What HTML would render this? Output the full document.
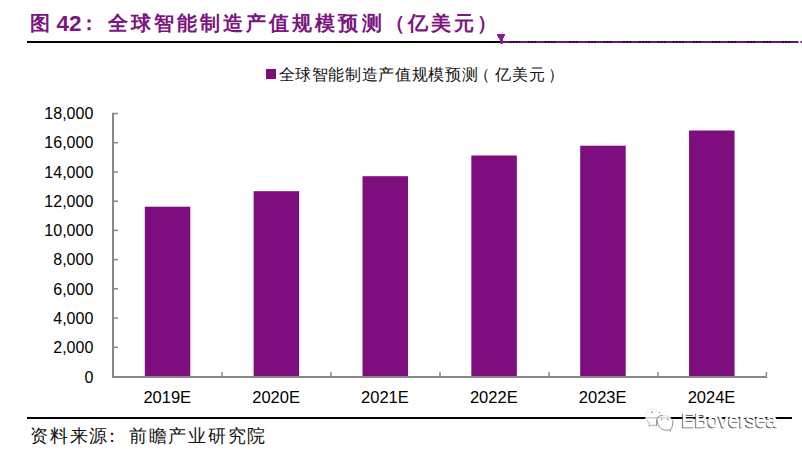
<!DOCTYPE html>
<html><head><meta charset="utf-8"><style>
html,body{margin:0;padding:0;background:#fff;width:802px;height:454px;overflow:hidden}
svg{display:block}
text{font-family:"Liberation Sans",sans-serif}
</style></head><body>
<svg width="802" height="454" viewBox="0 0 802 454">
<rect width="802" height="454" fill="#fff"/>
<!-- title -->
<g fill="#7d1480" font-weight="bold">
<text x="30" y="30.3" font-size="20">图</text>
<text x="56.6" y="31.2" font-size="22.5">42</text>
<text x="79.3" y="30.3" font-size="20">：</text>
<text x="107.5" y="30.2" font-size="20" letter-spacing="3.1">全球智能制造产值规模预测（亿美元）</text>
</g>
<rect x="27" y="41" width="473" height="2" fill="#000"/>
<rect x="500" y="41" width="298.6" height="2" fill="#651a70"/>
<rect x="800.5" y="41" width="1.5" height="2" fill="#651a70"/>
<rect x="509.7" y="41" width="1.6" height="2" fill="#1a0a1a"/>
<rect x="512.7" y="41" width="1.6" height="2" fill="#1a0a1a"/>
<rect x="515.7" y="41" width="1.6" height="2" fill="#1a0a1a"/>
<rect x="518.7" y="41" width="1.6" height="2" fill="#1a0a1a"/>
<rect x="528.2" y="41" width="1.6" height="2" fill="#1a0a1a"/>
<rect x="531.2" y="41" width="1.6" height="2" fill="#1a0a1a"/>
<rect x="534.2" y="41" width="1.6" height="2" fill="#1a0a1a"/>
<rect x="544.7" y="41" width="1.6" height="2" fill="#1a0a1a"/>
<rect x="547.7" y="41" width="1.6" height="2" fill="#1a0a1a"/>
<rect x="550.7" y="41" width="1.6" height="2" fill="#1a0a1a"/>
<rect x="553.7" y="41" width="1.6" height="2" fill="#1a0a1a"/>
<rect x="569.7" y="41" width="1.6" height="2" fill="#1a0a1a"/>
<rect x="572.7" y="41" width="1.6" height="2" fill="#1a0a1a"/>
<rect x="575.7" y="41" width="1.6" height="2" fill="#1a0a1a"/>
<rect x="588.2" y="41" width="1.6" height="2" fill="#1a0a1a"/>
<rect x="591.2" y="41" width="1.6" height="2" fill="#1a0a1a"/>
<rect x="594.2" y="41" width="1.6" height="2" fill="#1a0a1a"/>
<rect x="603.9" y="41" width="1.6" height="2" fill="#1a0a1a"/>
<rect x="606.9" y="41" width="1.6" height="2" fill="#1a0a1a"/>
<rect x="609.9" y="41" width="1.6" height="2" fill="#1a0a1a"/>
<rect x="623.2" y="41" width="1.6" height="2" fill="#1a0a1a"/>
<rect x="626.2" y="41" width="1.6" height="2" fill="#1a0a1a"/>
<rect x="629.2" y="41" width="1.6" height="2" fill="#1a0a1a"/>
<rect x="639.2" y="41" width="1.6" height="2" fill="#1a0a1a"/>
<rect x="642.2" y="41" width="1.6" height="2" fill="#1a0a1a"/>
<rect x="645.2" y="41" width="1.6" height="2" fill="#1a0a1a"/>
<rect x="648.2" y="41" width="1.6" height="2" fill="#1a0a1a"/>
<rect x="657.8" y="41" width="1.6" height="2" fill="#1a0a1a"/>
<rect x="660.8" y="41" width="1.6" height="2" fill="#1a0a1a"/>
<rect x="663.8" y="41" width="1.6" height="2" fill="#1a0a1a"/>
<rect x="673.2" y="41" width="1.6" height="2" fill="#1a0a1a"/>
<rect x="676.2" y="41" width="1.6" height="2" fill="#1a0a1a"/>
<rect x="679.2" y="41" width="1.6" height="2" fill="#1a0a1a"/>
<rect x="682.2" y="41" width="1.6" height="2" fill="#1a0a1a"/>
<rect x="693.2" y="41" width="1.6" height="2" fill="#1a0a1a"/>
<rect x="696.2" y="41" width="1.6" height="2" fill="#1a0a1a"/>
<rect x="699.2" y="41" width="1.6" height="2" fill="#1a0a1a"/>
<rect x="712.2" y="41" width="1.6" height="2" fill="#1a0a1a"/>
<rect x="715.2" y="41" width="1.6" height="2" fill="#1a0a1a"/>
<rect x="718.2" y="41" width="1.6" height="2" fill="#1a0a1a"/>
<rect x="728.2" y="41" width="1.6" height="2" fill="#1a0a1a"/>
<rect x="731.2" y="41" width="1.6" height="2" fill="#1a0a1a"/>
<rect x="734.2" y="41" width="1.6" height="2" fill="#1a0a1a"/>
<rect x="747.2" y="41" width="1.6" height="2" fill="#1a0a1a"/>
<rect x="750.2" y="41" width="1.6" height="2" fill="#1a0a1a"/>
<rect x="753.2" y="41" width="1.6" height="2" fill="#1a0a1a"/>
<rect x="763.2" y="41" width="1.6" height="2" fill="#1a0a1a"/>
<rect x="766.2" y="41" width="1.6" height="2" fill="#1a0a1a"/>
<rect x="769.2" y="41" width="1.6" height="2" fill="#1a0a1a"/>
<rect x="782.2" y="41" width="1.6" height="2" fill="#1a0a1a"/>
<rect x="785.2" y="41" width="1.6" height="2" fill="#1a0a1a"/>
<rect x="788.2" y="41" width="1.6" height="2" fill="#1a0a1a"/>
<polygon points="497,34 505,34 505,36 504,36 504,38 503,38 503,41 502.5,44 500.5,44 500,41 499,38 498,38 498,36 497,36" fill="#8a1a98"/>
<!-- legend -->
<rect x="266" y="69" width="10" height="10" fill="#7e0e7d"/>
<g font-size="16" fill="#111" font-weight="500"><text x="278.5" y="80" letter-spacing="0.64">全球智能制造产值规模预测</text>
<text x="474" y="80">（</text><text x="495.4" y="80" letter-spacing="0.64">亿美元</text><text x="547.6" y="80">）</text></g>
<!-- bars -->
<rect x="144.80" y="206.7" width="45.5" height="170.30" fill="#7e0e7d"/><rect x="253.65" y="191.2" width="45.5" height="185.80" fill="#7e0e7d"/><rect x="362.50" y="176.2" width="45.5" height="200.80" fill="#7e0e7d"/><rect x="471.35" y="155.5" width="45.5" height="221.50" fill="#7e0e7d"/><rect x="580.20" y="145.7" width="45.5" height="231.30" fill="#7e0e7d"/><rect x="689.05" y="130.5" width="45.5" height="246.50" fill="#7e0e7d"/>
<!-- axes -->
<rect x="112" y="113" width="2" height="265" fill="#888"/>
<rect x="112" y="376" width="655" height="2" fill="#888"/>
<rect x="112" y="346.53" width="6" height="1.5" fill="#888"/><rect x="112" y="317.31" width="6" height="1.5" fill="#888"/><rect x="112" y="288.09" width="6" height="1.5" fill="#888"/><rect x="112" y="258.87" width="6" height="1.5" fill="#888"/><rect x="112" y="229.65" width="6" height="1.5" fill="#888"/><rect x="112" y="200.43" width="6" height="1.5" fill="#888"/><rect x="112" y="171.21" width="6" height="1.5" fill="#888"/><rect x="112" y="141.99" width="6" height="1.5" fill="#888"/><rect x="112" y="112.77" width="6" height="1.5" fill="#888"/>
<rect x="221.25" y="372" width="1.5" height="5" fill="#888"/><rect x="330.25" y="372" width="1.5" height="5" fill="#888"/><rect x="439.25" y="372" width="1.5" height="5" fill="#888"/><rect x="548.25" y="372" width="1.5" height="5" fill="#888"/><rect x="657.25" y="372" width="1.5" height="5" fill="#888"/><rect x="765.65" y="372" width="1.5" height="5" fill="#888"/>
<g font-size="16" fill="#000">
<text x="93.3" y="383.00" text-anchor="end">0</text><text x="93.3" y="352.98" text-anchor="end">2,000</text><text x="93.3" y="323.76" text-anchor="end">4,000</text><text x="93.3" y="294.54" text-anchor="end">6,000</text><text x="93.3" y="265.32" text-anchor="end">8,000</text><text x="93.3" y="236.10" text-anchor="end">10,000</text><text x="93.3" y="206.88" text-anchor="end">12,000</text><text x="93.3" y="177.66" text-anchor="end">14,000</text><text x="93.3" y="148.44" text-anchor="end">16,000</text><text x="93.3" y="119.22" text-anchor="end">18,000</text>
<text x="167.25" y="403" text-anchor="middle" font-size="16.5">2019E</text><text x="276.10" y="403" text-anchor="middle" font-size="16.5">2020E</text><text x="384.95" y="403" text-anchor="middle" font-size="16.5">2021E</text><text x="493.80" y="403" text-anchor="middle" font-size="16.5">2022E</text><text x="602.65" y="403" text-anchor="middle" font-size="16.5">2023E</text><text x="711.50" y="403" text-anchor="middle" font-size="16.5">2024E</text>
</g>
<!-- bottom -->
<rect x="27" y="417" width="765" height="2" fill="#000"/>
<g font-size="18" fill="#111"><text x="30" y="442" letter-spacing="1.75">资料来源</text><text x="103" y="442">：</text>
<text x="128.75" y="442" letter-spacing="1.75">前瞻产业研究院</text></g>
<!-- watermark -->
<rect x="645.5" y="417" width="25" height="2" fill="#fff"/>
<rect x="646" y="417" width="11" height="1.6" fill="#cfcfcf"/>
<rect x="657" y="417" width="13" height="1.6" fill="#d8d8d8"/>
<g fill="none" stroke-linecap="round">
<path d="M656.8,411.5 C654,408 648,408.2 646.2,412.5 C645,415.5 645.5,418.5 647,420.5" stroke="#d8d8d8" stroke-width="0.7" stroke-dasharray="1.5 1.5"/>
<path d="M647,420.5 L649.5,423.8 L648.9,426.3 L651.5,425.3 L656.6,425.3" stroke="#8a8a8a" stroke-width="0.7"/>
<path d="M656.6,425.3 L656.8,419 C658,416.5 660,415.4 662.5,415.4" stroke="#6a6a6a" stroke-width="0.8"/>
<path d="M662.5,415.4 C667,415.3 671.5,417 672.8,421" stroke="#cfcfcf" stroke-width="0.7"/>
<path d="M657,420.5 C657.5,426 661,429.8 666,430.2 C667.5,430.3 669,430 670.5,429.8 L670.6,431.3 M670.5,429.8 C672,428 673,425 672.8,421" stroke="#777" stroke-width="0.8"/>
</g>
<circle cx="651.9" cy="412.3" r="0.75" fill="#555"/><circle cx="659.4" cy="412.6" r="0.6" fill="#777"/>
<circle cx="661.6" cy="419.6" r="0.7" fill="#666"/><circle cx="667.9" cy="419.6" r="0.7" fill="#666"/>
<text x="680.8" y="428.3" font-size="19.5" fill="#4a4a4a" stroke="#4a4a4a" stroke-width="0.5">EBoversea</text>
<text x="681.8" y="427.3" font-size="19.5" fill="#fff" stroke="#fff" stroke-width="0.8">EBoversea</text>
</svg>
</body></html>
